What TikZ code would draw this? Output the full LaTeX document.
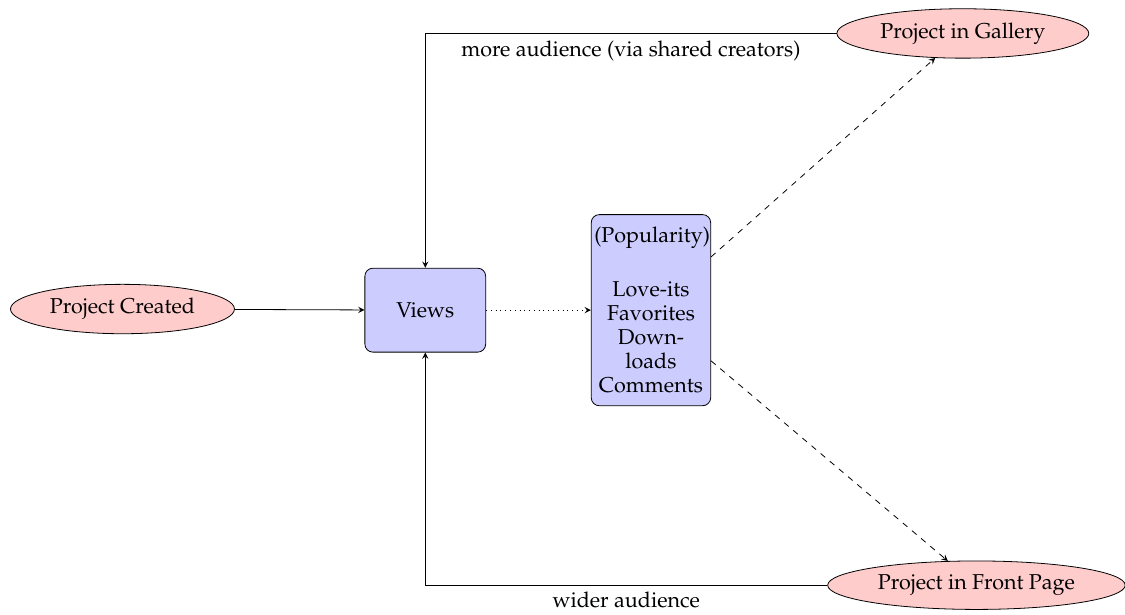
\documentclass[tikz,border=0pt]{standalone}
\usepackage[T1]{fontenc}
\usepackage{mathpazo}
\usepackage{tikz}
\usetikzlibrary{shapes,arrows}

\begin{document}
\begin{tikzpicture}[>=stealth, font=\fontsize{10.8}{12.1}\selectfont,
        state/.style = {ellipse, draw, fill=red!20},
        block/.style = {rectangle, draw, fill=blue!20, rounded corners, align=center}]
        \useasboundingbox (0,0) rectangle (19.84,-10.83);

        % project states
        \node[state] (created) at (2.16,-5.45) {Project Created};
        \node[state] (gallery) at (16.98,-0.59) {Project in Gallery};
        \node[state] (front) at (17.22,-10.32) {Project in Front Page};

        % views and popularity
        \node[block, minimum width=2.13cm, minimum height=1.48cm] (views) at (7.50,-5.47) {Views};
        \node[block, text width=2.0cm, inner xsep=1.5pt, minimum height=3.37cm] (pop) at (11.48,-5.47)
            {(Popularity)\\[15pt] Love-its\\ Favorites\\ Down-\\ loads\\ Comments};

        \draw[->] (created) -- (views);
        \draw[->, dotted] (views) -- (pop);
        \draw[->, dashed] (pop) -- (gallery);
        \draw[->, dashed] (pop) -- (front);

        % feedback to views
        \draw[->] (gallery.west) -| (views.north) node[pos=0.25, below] {more audience (via shared creators)};
        \draw[->] (front.west) -| (views.south) node[pos=0.25, below] {wider audience};

    \end{tikzpicture}
\end{document}
